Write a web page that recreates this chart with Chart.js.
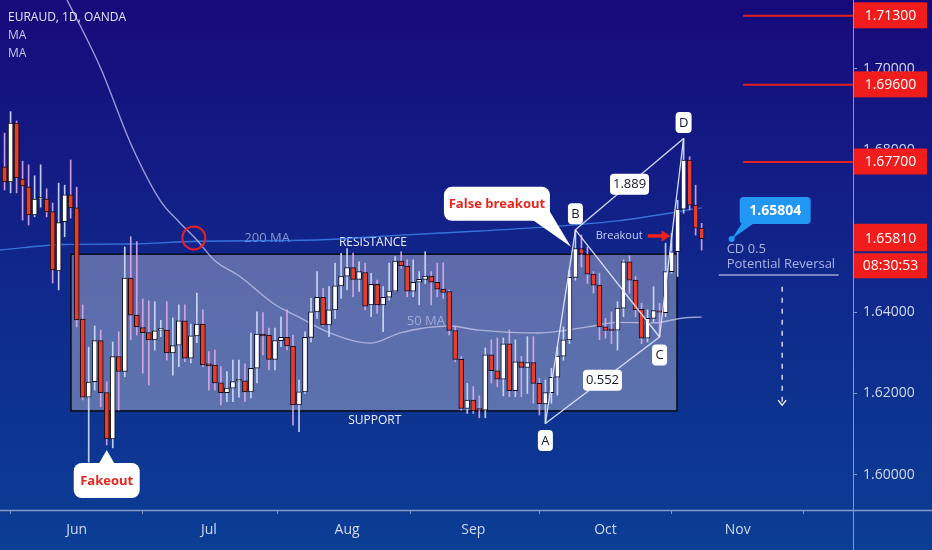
<!DOCTYPE html>
<html><head><meta charset="utf-8">
<script src="https://cdn.jsdelivr.net/npm/chart.js@4.4.1/dist/chart.umd.min.js"></script>
<style>html,body{margin:0;padding:0;background:#0f2a8a;}#wrap{width:932px;height:550px;position:relative;}</style>
</head><body><div id="wrap"><canvas id="c" width="932" height="550"></canvas></div>
<script>
// ---- data (EURAUD daily, OANDA) ----
const opens=[1.6758,1.6721,1.6866,1.6728,1.6709,1.6640,1.6679,1.6679,1.6648,1.6502,1.6623,1.6689,1.6657,1.6383,1.6191,1.6229,1.6330,1.6202,1.6088,1.6291,1.6254,1.6484,1.6393,1.6362,1.6350,1.6332,1.6356,1.6356,1.6300,1.6319,1.6379,1.6287,1.6342,1.6371,1.6273,1.6270,1.6226,1.6202,1.6213,1.6231,1.6231,1.6204,1.6262,1.6346,1.6344,1.6284,1.6330,1.6338,1.6317,1.6172,1.6204,1.6338,1.6401,1.6437,1.6369,1.6406,1.6465,1.6489,1.6510,1.6481,1.6498,1.6418,1.6469,1.6418,1.6437,1.6452,1.6526,1.6514,1.6452,1.6474,1.6481,1.6489,1.6474,1.6457,1.6451,1.6355,1.6284,1.6163,1.6184,1.6162,1.6159,1.6295,1.6256,1.6235,1.6322,1.6207,1.6278,1.6264,1.6276,1.6225,1.6174,1.6202,1.6240,1.6292,1.6332,1.6486,1.6557,1.6543,1.6494,1.6467,1.6364,1.6356,1.6356,1.6410,1.6524,1.6479,1.6407,1.6336,1.6385,1.6401,1.6399,1.6500,1.6549,1.6654,1.6775,1.6664,1.6607];
const highs=[1.6841,1.6894,1.6871,1.6772,1.6763,1.6736,1.6763,1.6704,1.6669,1.6718,1.6713,1.6775,1.6708,1.6418,1.6314,1.6366,1.6356,1.6229,1.6327,1.6352,1.6561,1.6586,1.6574,1.6433,1.6428,1.6426,1.6380,1.6426,1.6386,1.6418,1.6418,1.6371,1.6447,1.6406,1.6303,1.6307,1.6266,1.6254,1.6282,1.6282,1.6273,1.6349,1.6401,1.6399,1.6361,1.6361,1.6389,1.6406,1.6344,1.6233,1.6352,1.6434,1.6500,1.6459,1.6463,1.6521,1.6545,1.6557,1.6546,1.6524,1.6521,1.6496,1.6479,1.6463,1.6521,1.6537,1.6549,1.6529,1.6529,1.6500,1.6549,1.6500,1.6521,1.6522,1.6455,1.6366,1.6291,1.6225,1.6217,1.6194,1.6312,1.6332,1.6337,1.6337,1.6356,1.6332,1.6291,1.6340,1.6340,1.6237,1.6233,1.6262,1.6315,1.6364,1.6504,1.6603,1.6590,1.6561,1.6500,1.6496,1.6385,1.6401,1.6426,1.6529,1.6539,1.6488,1.6422,1.6406,1.6463,1.6422,1.6570,1.6594,1.6676,1.6828,1.6783,1.6713,1.6619];
const lows=[1.6701,1.6694,1.6694,1.6627,1.6615,1.6635,1.6659,1.6635,1.6472,1.6455,1.6586,1.6632,1.6364,1.6184,1.6031,1.6208,1.6167,1.6073,1.6066,1.6159,1.6241,1.6332,1.6344,1.6250,1.6221,1.6307,1.6340,1.6282,1.6245,1.6266,1.6278,1.6275,1.6325,1.6266,1.6208,1.6208,1.6172,1.6180,1.6180,1.6191,1.6180,1.6189,1.6226,1.6295,1.6258,1.6258,1.6315,1.6307,1.6122,1.6106,1.6200,1.6327,1.6385,1.6366,1.6340,1.6385,1.6434,1.6455,1.6438,1.6451,1.6406,1.6389,1.6397,1.6352,1.6430,1.6451,1.6508,1.6438,1.6438,1.6418,1.6471,1.6418,1.6438,1.6434,1.6344,1.6278,1.6159,1.6151,1.6151,1.6140,1.6140,1.6226,1.6217,1.6194,1.6192,1.6192,1.6192,1.6200,1.6176,1.6147,1.6126,1.6176,1.6196,1.6282,1.6323,1.6479,1.6512,1.6471,1.6447,1.6332,1.6336,1.6323,1.6307,1.6389,1.6447,1.6389,1.6323,1.6327,1.6377,1.6339,1.6389,1.6496,1.6488,1.6644,1.6652,1.6590,1.6553];
const closes=[1.6721,1.6866,1.6731,1.6711,1.6640,1.6679,1.6680,1.6647,1.6504,1.6621,1.6689,1.6657,1.6381,1.6191,1.6228,1.6330,1.6202,1.6088,1.6291,1.6254,1.6484,1.6393,1.6364,1.6350,1.6332,1.6354,1.6357,1.6300,1.6318,1.6379,1.6287,1.6342,1.6371,1.6270,1.6268,1.6226,1.6202,1.6213,1.6229,1.6233,1.6204,1.6262,1.6346,1.6342,1.6284,1.6330,1.6338,1.6317,1.6172,1.6204,1.6338,1.6401,1.6437,1.6369,1.6406,1.6465,1.6489,1.6510,1.6481,1.6500,1.6415,1.6469,1.6418,1.6437,1.6452,1.6526,1.6514,1.6452,1.6474,1.6481,1.6489,1.6474,1.6457,1.6449,1.6355,1.6284,1.6163,1.6184,1.6157,1.6159,1.6295,1.6256,1.6235,1.6322,1.6207,1.6278,1.6264,1.6276,1.6225,1.6174,1.6202,1.6240,1.6292,1.6332,1.6486,1.6557,1.6543,1.6494,1.6467,1.6364,1.6355,1.6355,1.6410,1.6524,1.6479,1.6406,1.6336,1.6385,1.6404,1.6400,1.6500,1.6549,1.6654,1.6775,1.6664,1.6607,1.6581];
const ma50Idx=[8,10,16,21,26,29,32,35,39,45,49,54,61,66,74,79,89,97,102,108,113,116];
const ma50Val=[1.7240,1.7181,1.7001,1.6815,1.6673,1.6623,1.6578,1.6527,1.6490,1.6419,1.6388,1.6350,1.6324,1.6350,1.6366,1.6356,1.6349,1.6364,1.6375,1.6374,1.6386,1.6388];
const ma200Idx=[-1,10,21,32,52,66,79,92,102,116];
const ma200Val=[1.6553,1.6567,1.6568,1.6575,1.6578,1.6590,1.6600,1.6612,1.6625,1.6657];
const monthLabels=["Jun","Jul","Aug","Sep","Oct","Nov"];
const yTicks=[1.60,1.62,1.64,1.66,1.68,1.70];
const levelLines=[1.713,1.696,1.677];
const boxLevels=[1.6543,1.6157];      // resistance, support
const lastPrice=1.6581, countdown="08:30:53", targetPrice=1.65804;
const firstDay=Date.UTC(2020,4,14);

// ---- trading-day calendar -> month tick indices ----
const dates=[]; {let d=new Date(firstDay); while(dates.length<160){const w=d.getUTCDay(); if(w!==0&&w!==6) dates.push(new Date(d)); d.setUTCDate(d.getUTCDate()+1);} }
const monthIdx=[]; for(let i=1;i<dates.length&&monthIdx.length<monthLabels.length;i++){ if(dates[i].getUTCMonth()!==dates[i-1].getUTCMonth()) monthIdx.push(i); }

const idx=opens.map((_,i)=>i);
const isUp=i=>closes[i]>=opens[i];
const RED='#ea3b2b';

Chart.defaults.font.family="'Open Sans', 'DejaVu Sans', sans-serif";

function rr(ctx,x,y,w,h,r){ctx.beginPath();ctx.moveTo(x+r,y);ctx.arcTo(x+w,y,x+w,y+h,r);ctx.arcTo(x+w,y+h,x,y+h,r);ctx.arcTo(x,y+h,x,y,r);ctx.arcTo(x,y,x+w,y,r);ctx.closePath();}
function tag(ctx,text,cx,cy,w,h,fill,color,font,r){ctx.save();rr(ctx,cx-w/2,cy-h/2,w,h,r||4);ctx.fillStyle=fill;ctx.fill();ctx.fillStyle=color;ctx.font=font;ctx.textAlign='center';ctx.textBaseline='middle';ctx.fillText(text,cx,cy+0.5);ctx.restore();}
function txt(ctx,text,x,y,color,font,align){ctx.save();ctx.fillStyle=color;ctx.font=font;ctx.textAlign=align||'center';ctx.textBaseline='middle';ctx.fillText(text,x,y);ctx.restore();}
function line(ctx,x1,y1,x2,y2,color,w,dash){ctx.save();ctx.strokeStyle=color;ctx.lineWidth=w;if(dash)ctx.setLineDash(dash);ctx.beginPath();ctx.moveTo(x1,y1);ctx.lineTo(x2,y2);ctx.stroke();ctx.restore();}

const bgPlugin={id:'bg',beforeDraw(chart){const {ctx,width,height}=chart;const g=ctx.createLinearGradient(0,0,0,height);g.addColorStop(0,'#170a7b');g.addColorStop(0.55,'#0f2a8c');g.addColorStop(1,'#0b3e95');ctx.save();ctx.fillStyle=g;ctx.fillRect(0,0,width,height);ctx.restore();}};

const annot={id:'annot',
 beforeDatasetsDraw(chart){
  const {ctx,scales:{x:xs,y:ys}}=chart;
  const x1=xs.getPixelForValue(11.05),x2=xs.getPixelForValue(111.9);
  const y1=ys.getPixelForValue(boxLevels[0]),y2=ys.getPixelForValue(boxLevels[1]);
  ctx.save();ctx.fillStyle='rgba(200,202,218,0.42)';ctx.fillRect(x1,y1,x2-x1,y2-y1);
  ctx.strokeStyle='#0a0a16';ctx.lineWidth=1.5;ctx.strokeRect(x1,y1,x2-x1,y2-y1);ctx.restore();
  txt(ctx,'RESISTANCE',xs.getPixelForValue(61.3),y1-12,'#eef0ff','12px "Open Sans"');
  txt(ctx,'SUPPORT',xs.getPixelForValue(61.6),y2+10,'#eef0ff','12px "Open Sans"');
  txt(ctx,'200 MA',xs.getPixelForValue(43.7),ys.getPixelForValue(1.6583),'rgba(165,178,228,0.8)','13px "Open Sans"');
  txt(ctx,'50 MA',xs.getPixelForValue(70.1),ys.getPixelForValue(1.6378),'rgba(175,185,225,0.8)','13px "Open Sans"');
 },
 afterDatasetsDraw(chart){
  const {ctx,scales:{x:xs,y:ys}}=chart;
  const P=(i,v)=>[xs.getPixelForValue(i),ys.getPixelForValue(v)];
  // red circle (MA cross)
  const cc=P(31.5,1.6583);
  ctx.save();ctx.strokeStyle='#e8202a';ctx.lineWidth=2;ctx.beginPath();ctx.arc(cc[0],cc[1],11.5,0,Math.PI*2);ctx.stroke();ctx.restore();
  // XABCD
  const A=P(90,lows[90]),B=P(95,highs[95]),C=P(109,lows[109]),D=P(113,highs[113]);
  const lc='rgba(228,232,255,0.92)';
  [[A,B],[B,C],[C,D],[A,C],[B,D]].forEach(([p,q])=>line(ctx,p[0],p[1],q[0],q[1],lc,1.3));
  const lf='13px "Open Sans"';
  tag(ctx,'A',A[0],A[1]+17,15,21,'#ffffff','#131722',lf,4);
  tag(ctx,'B',B[0],B[1]-16,15,21,'#ffffff','#131722',lf,4);
  tag(ctx,'C',C[0],C[1]+18,15,21,'#ffffff','#131722',lf,4);
  tag(ctx,'D',D[0],D[1]-16,16,21,'#ffffff','#131722',lf,4);
  tag(ctx,'1.889',(B[0]+D[0])/2,(B[1]+D[1])/2,39,21,'#ffffff','#131722',lf,4);
  tag(ctx,'0.552',(A[0]+C[0])/2,(A[1]+C[1])/2,39,21,'#ffffff','#131722',lf,4);
  // Fakeout callout
  const f=P(17,lows[17]);const ft=[f[0],f[1]+5];
  ctx.save();ctx.fillStyle='#ffffff';rr(ctx,ft[0]-33,ft[1]+13,66,35,8);ctx.fill();
  ctx.beginPath();ctx.moveTo(ft[0]-8,ft[1]+14);ctx.lineTo(ft[0],ft[1]);ctx.lineTo(ft[0]+8,ft[1]+14);ctx.closePath();ctx.fill();ctx.restore();
  txt(ctx,'Fakeout',ft[0],ft[1]+31,'#e8261e','bold 13px "Open Sans"');
  // False breakout callout
  const fb=[B[0]-4.5,B[1]+17];
  ctx.save();ctx.fillStyle='#ffffff';rr(ctx,fb[0]-127,fb[1]-60,106,34,8);ctx.fill();
  ctx.beginPath();ctx.moveTo(fb[0]-40,fb[1]-28);ctx.lineTo(fb[0]-24,fb[1]-40);ctx.lineTo(fb[0],fb[1]);ctx.closePath();ctx.fill();ctx.restore();
  txt(ctx,'False breakout',fb[0]-74,fb[1]-43,'#e8261e','bold 13px "Open Sans"');
  // Breakout arrow
  const bk=P(112,1.6588);const ax=bk[0]-7;
  txt(ctx,'Breakout',ax-28,bk[1],'#c9cdf2','11px "Open Sans"','right');
  line(ctx,ax-23,bk[1],ax-7,bk[1],'#f0201a',3.5);
  ctx.save();ctx.fillStyle='#f0201a';ctx.beginPath();ctx.moveTo(ax,bk[1]);ctx.lineTo(ax-9,bk[1]-5.5);ctx.lineTo(ax-9,bk[1]+5.5);ctx.closePath();ctx.fill();ctx.restore();
  // target callout
  const t=P(121,targetPrice);
  ctx.save();ctx.fillStyle='#2196f3';rr(ctx,t[0]+8,t[1]-42,71,27,4);ctx.fill();
  ctx.beginPath();ctx.moveTo(t[0]+11,t[1]-17);ctx.lineTo(t[0]+24,t[1]-17);ctx.lineTo(t[0],t[1]);ctx.closePath();ctx.fill();
  ctx.beginPath();ctx.arc(t[0],t[1],3,0,Math.PI*2);ctx.fill();ctx.restore();
  txt(ctx,'1.65804',t[0]+43.5,t[1]-28,'#ffffff','bold 14px "Open Sans"');
  txt(ctx,'CD 0.5',t[0]-5,t[1]+10,'#aab4de','13px "Open Sans"','left');
  txt(ctx,'Potential Reversal',t[0]-5,t[1]+25,'#aab4de','13px "Open Sans"','left');
  line(ctx,t[0]-13,t[1]+36,t[0]+107,t[1]+36,'#dfe3f7',1.2);
  // projected move arrow
  const a1=P(129.4,1.6463),a2=P(129.4,1.6171);
  line(ctx,a1[0],a1[1],a2[0],a2[1]-2,'#ffffff',1.2,[5,6]);
  ctx.save();ctx.strokeStyle='#ffffff';ctx.lineWidth=1.2;ctx.beginPath();ctx.moveTo(a2[0]-4,a2[1]-5);ctx.lineTo(a2[0],a2[1]);ctx.lineTo(a2[0]+4,a2[1]-5);ctx.stroke();ctx.restore();
  // red level lines
  levelLines.forEach(v=>{const y=ys.getPixelForValue(v);line(ctx,xs.getPixelForValue(122.9),y,chart.chartArea.right,y,'#e3211f',2);});
 },
 afterDraw(chart){
  const {ctx,chartArea:ca,scales:{y:ys},width,height}=chart;
  const ac='#8798c8';
  line(ctx,0,ca.bottom+0.5,width,ca.bottom+0.5,ac,1.5);
  line(ctx,ca.right+0.5,0,ca.right+0.5,height,ac,1);
  const lab=(text,cy,up)=>{ctx.save();ctx.fillStyle='#f11d1c';ctx.fillRect(ca.right+1,cy-12.5-(up||0),73,25+(up||0));ctx.restore();txt(ctx,text,ca.right+37.5,cy,'#ffffff','14px "Open Sans"');};
  levelLines.forEach(v=>lab(v.toFixed(5),ys.getPixelForValue(v),1));
  const ly=ys.getPixelForValue(lastPrice);
  lab(lastPrice.toFixed(5),ly,2.5);
  lab(countdown,ly+27);
  txt(ctx,'EURAUD, 1D, OANDA',8,18,'#e4e7f7','12px "Open Sans"','left');
  txt(ctx,'MA',8,36,'#c3c8e4','12px "Open Sans"','left');
  txt(ctx,'MA',8,54,'#c3c8e4','12px "Open Sans"','left');
 }
};

new Chart(document.getElementById('c'),{
 type:'bar',
 data:{datasets:[
  {label:'body',data:idx.map(i=>({x:i,y:[opens[i],closes[i]]})),backgroundColor:idx.map(i=>isUp(i)?'#ffffff':RED),borderColor:'#0b0b18',borderWidth:1,borderSkipped:false,barThickness:5,minBarLength:1.5,grouped:false,order:0},
  {label:'wick',data:idx.map(i=>({x:i,y:[lows[i],highs[i]]})),backgroundColor:idx.map(i=>isUp(i)?'rgba(212,224,248,0.9)':'rgba(222,170,228,0.9)'),borderWidth:0,barThickness:1,grouped:false,order:1},
  {type:'line',label:'MA50',data:ma50Idx.map((x,k)=>({x,y:ma50Val[k]})),borderColor:'rgba(200,200,236,0.75)',borderWidth:1.4,pointRadius:0,cubicInterpolationMode:'monotone',order:2},
  {type:'line',label:'MA200',data:ma200Idx.map((x,k)=>({x,y:ma200Val[k]})),borderColor:'rgba(60,130,235,0.85)',borderWidth:1.4,pointRadius:0,cubicInterpolationMode:'monotone',order:3}
 ]},
 options:{responsive:false,animation:false,events:[],devicePixelRatio:1,
  layout:{padding:0,autoPadding:false},
  plugins:{legend:{display:false},tooltip:{enabled:false}},
  scales:{
   x:{type:'linear',offset:false,min:-0.76,max:141.19,
     afterBuildTicks:s=>{s.ticks=monthIdx.map(v=>({value:v}));},
     afterFit:s=>{s.height=40;s.paddingLeft=0;s.paddingRight=0;},
     grid:{display:true,drawOnChartArea:false,drawTicks:true,tickLength:4,color:'#8798c8'},border:{display:false},
     ticks:{padding:8,color:'#d3d9ef',font:{size:14},maxRotation:0,autoSkip:false,callback:(v)=>{const k=monthIdx.indexOf(v);return k>=0?monthLabels[k]:'';}}},
   y:{type:'linear',position:'right',min:1.5913,max:1.7169,
     afterBuildTicks:s=>{s.ticks=yTicks.map(v=>({value:v}));},
     afterFit:s=>{s.width=79;s.paddingTop=0;s.paddingBottom=0;},
     grid:{display:true,drawOnChartArea:false,drawTicks:true,tickLength:4,color:'#8798c8'},border:{display:false},
     ticks:{padding:6,color:'#d3d9ef',font:{size:14},callback:v=>v.toFixed(5)}}
  }
 },
 plugins:[bgPlugin,annot]
});
</script></body></html>
